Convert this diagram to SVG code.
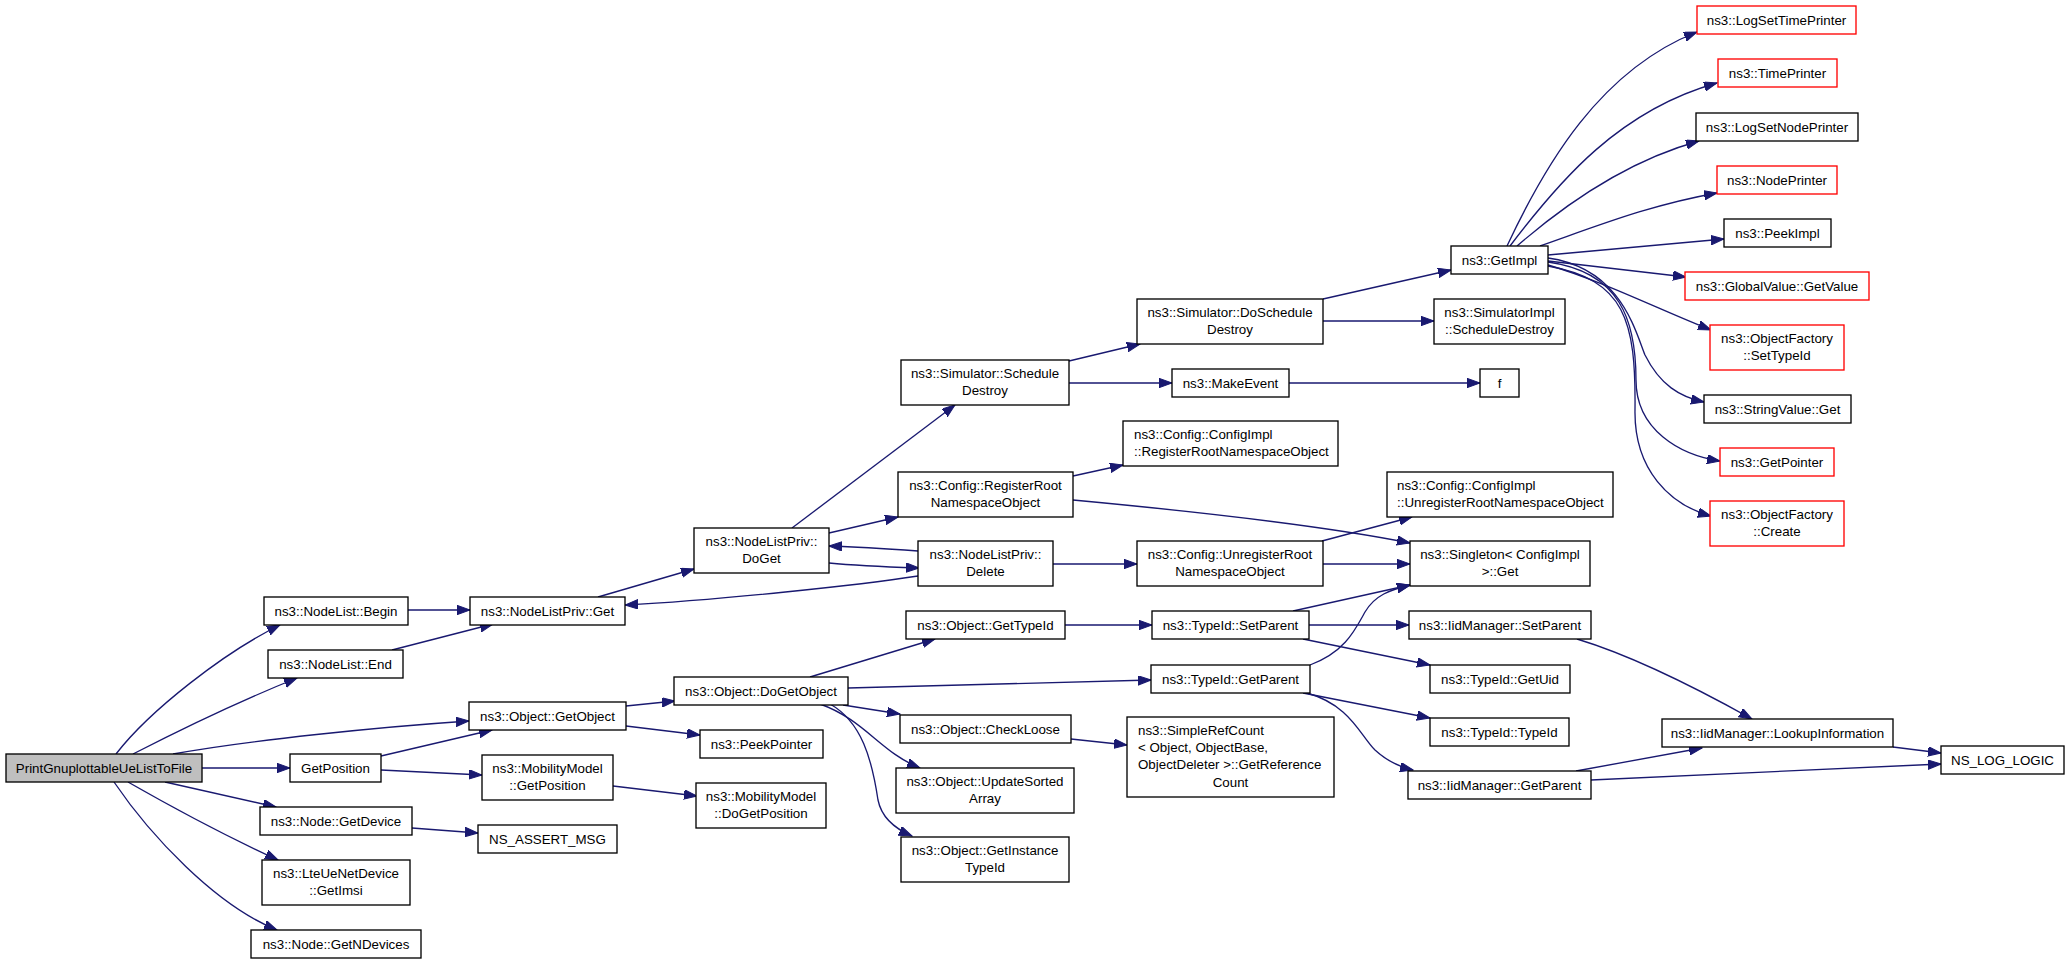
<svg xmlns="http://www.w3.org/2000/svg" width="2069" height="964" viewBox="0 0 2069 964">
<defs>
<style>
.n rect{fill:#fff;stroke:#000;stroke-width:1.33}
.n.r rect{stroke:#ff0000}
.n.m rect{fill:#bfbfbf}
.n text{font-family:"Liberation Sans",Arial,sans-serif;font-size:13.33px;fill:#000;text-anchor:middle}
.n text.l{text-anchor:start}
#edges path{fill:none;stroke:#191970;stroke-width:1.33;marker-end:url(#a)}
</style>
<marker id="a" markerWidth="14" markerHeight="10" refX="13" refY="4.7" orient="auto" markerUnits="userSpaceOnUse"><path d="M0,0 L13,4.7 L0,9.4 z" fill="#191970" stroke="#191970" stroke-width="1"/></marker>
</defs>
<rect width="2069" height="964" fill="#fff"/>
<g id="edges">
<path d="M116,754 C150,710 225,652 280,625"/>
<path d="M133,754 C170,735 230,705 297,678"/>
<path d="M173,754 C250,740 380,727 469,721"/>
<path d="M202,768 L290,768"/>
<path d="M165,782 L276,807"/>
<path d="M128,782 C170,806 230,838 278,860"/>
<path d="M114,782 C150,835 215,905 277,930"/>
<path d="M408,610 L470,610"/>
<path d="M392,650 L493,624"/>
<path d="M598,597 L694,569"/>
<path d="M792,528 L955,405"/>
<path d="M829,533 L898,517"/>
<path d="M829,563 C860,566 890,567 919,568"/>
<path d="M918,551 C890,549 860,547 829,546"/>
<path d="M918,576 C860,585 720,600 625,605"/>
<path d="M1053,564 L1137,564"/>
<path d="M1069,361 L1140,344"/>
<path d="M1069,383 L1172,383"/>
<path d="M1289,383 L1480,383"/>
<path d="M1323,299 L1451,270"/>
<path d="M1323,321 L1434,321"/>
<path d="M1073,476 L1123,465"/>
<path d="M1073,500 C1180,510 1320,525 1410,543"/>
<path d="M1322,541 L1412,517"/>
<path d="M1323,564 L1410,564"/>
<path d="M1507,246 C1545,165 1600,70 1697,32"/>
<path d="M1510,246 C1560,180 1620,110 1717,83"/>
<path d="M1517,246 C1570,200 1630,160 1699,141"/>
<path d="M1540,246 C1600,225 1650,205 1717,193"/>
<path d="M1548,255 L1724,239"/>
<path d="M1548,261 L1686,277"/>
<path d="M1548,265 C1600,280 1660,310 1711,330"/>
<path d="M1548,258 C1620,268 1635,330 1645,355 C1660,385 1680,397 1704,402"/>
<path d="M1548,262 C1620,272 1636,320 1636,380 C1636,430 1680,455 1720,461"/>
<path d="M1548,266 C1625,280 1636,320 1635,410 C1634,470 1670,505 1711,516"/>
<path d="M626,706 L675,701"/>
<path d="M626,726 L700,735"/>
<path d="M381,756 L492,730"/>
<path d="M381,770 L482,775"/>
<path d="M613,786 L697,796"/>
<path d="M412,828 L478,833"/>
<path d="M810,677 L935,639"/>
<path d="M848,688 L1151,680"/>
<path d="M843,705 L900,714"/>
<path d="M820,704 C865,720 880,752 920,768"/>
<path d="M830,704 C862,722 872,760 878,800 C882,820 898,830 912,836"/>
<path d="M1065,625 L1152,625"/>
<path d="M1293,611 L1410,585"/>
<path d="M1309,625 L1409,625"/>
<path d="M1303,639 L1430,665"/>
<path d="M1310,665 C1345,652 1355,630 1365,612 C1375,595 1390,590 1410,585"/>
<path d="M1303,693 L1430,718"/>
<path d="M1307,693 C1350,705 1360,735 1375,750 C1388,762 1400,767 1413,770"/>
<path d="M1071,739 L1127,745"/>
<path d="M1577,639 C1630,655 1700,690 1752,719"/>
<path d="M1576,771 L1702,748"/>
<path d="M1591,780 L1941,764"/>
<path d="M1893,747 L1941,753"/>
</g>
<g id="n_print" class="n m"><rect x="6" y="754" width="196" height="28"/><text x="104" y="772.7">PrintGnuplottableUeListToFile</text></g>
<g id="n_begin" class="n"><rect x="264" y="597" width="144" height="28"/><text x="336" y="615.7">ns3::NodeList::Begin</text></g>
<g id="n_end" class="n"><rect x="268" y="650" width="135" height="28"/><text x="335.5" y="668.7">ns3::NodeList::End</text></g>
<g id="n_getobject" class="n"><rect x="469" y="702" width="157" height="28"/><text x="547.5" y="720.7">ns3::Object::GetObject</text></g>
<g id="n_getposition" class="n"><rect x="290" y="754" width="91" height="28"/><text x="335.5" y="772.7">GetPosition</text></g>
<g id="n_mmgetpos" class="n"><rect x="482" y="755" width="131" height="45"/><text x="547.5" y="772.5">ns3::MobilityModel</text><text x="547.5" y="789.5">::GetPosition</text></g>
<g id="n_getdevice" class="n"><rect x="260" y="807" width="152" height="28"/><text x="336" y="825.7">ns3::Node::GetDevice</text></g>
<g id="n_assert" class="n"><rect x="478" y="825" width="139" height="28"/><text x="547.5" y="843.7">NS_ASSERT_MSG</text></g>
<g id="n_imsi" class="n"><rect x="262" y="860" width="148" height="45"/><text x="336" y="877.5">ns3::LteUeNetDevice</text><text x="336" y="894.5">::GetImsi</text></g>
<g id="n_ndevices" class="n"><rect x="251" y="930" width="170" height="28"/><text x="336" y="948.7">ns3::Node::GetNDevices</text></g>
<g id="n_nlpget" class="n"><rect x="470" y="597" width="155" height="28"/><text x="547.5" y="615.7">ns3::NodeListPriv::Get</text></g>
<g id="n_doget" class="n"><rect x="694" y="528" width="135" height="45"/><text x="761.5" y="545.5">ns3::NodeListPriv::</text><text x="761.5" y="562.5">DoGet</text></g>
<g id="n_delete" class="n"><rect x="918" y="541" width="135" height="45"/><text x="985.5" y="558.5">ns3::NodeListPriv::</text><text x="985.5" y="575.5">Delete</text></g>
<g id="n_sched" class="n"><rect x="901" y="360" width="168" height="45"/><text x="985" y="377.5">ns3::Simulator::Schedule</text><text x="985" y="394.5">Destroy</text></g>
<g id="n_dosched" class="n"><rect x="1137" y="299" width="186" height="45"/><text x="1230" y="316.5">ns3::Simulator::DoSchedule</text><text x="1230" y="333.5">Destroy</text></g>
<g id="n_simimpl" class="n"><rect x="1434" y="299" width="131" height="45"/><text x="1499.5" y="316.5">ns3::SimulatorImpl</text><text x="1499.5" y="333.5">::ScheduleDestroy</text></g>
<g id="n_getimpl" class="n"><rect x="1451" y="246" width="97" height="28"/><text x="1499.5" y="264.7">ns3::GetImpl</text></g>
<g id="n_makeevent" class="n"><rect x="1172" y="369" width="117" height="28"/><text x="1230.5" y="387.7">ns3::MakeEvent</text></g>
<g id="n_f" class="n"><rect x="1480" y="369" width="39" height="28"/><text x="1499.5" y="387.7">f</text></g>
<g id="n_regroot" class="n"><rect x="898" y="472" width="175" height="45"/><text x="985.5" y="489.5">ns3::Config::RegisterRoot</text><text x="985.5" y="506.5">NamespaceObject</text></g>
<g id="n_implreg" class="n"><rect x="1123" y="421" width="215" height="45"/><text class="l" x="1134" y="438.5">ns3::Config::ConfigImpl</text><text class="l" x="1134" y="455.5">::RegisterRootNamespaceObject</text></g>
<g id="n_implunreg" class="n"><rect x="1387" y="472" width="226" height="45"/><text class="l" x="1397" y="489.5">ns3::Config::ConfigImpl</text><text class="l" x="1397" y="506.5">::UnregisterRootNamespaceObject</text></g>
<g id="n_unregroot" class="n"><rect x="1137" y="541" width="186" height="45"/><text x="1230" y="558.5">ns3::Config::UnregisterRoot</text><text x="1230" y="575.5">NamespaceObject</text></g>
<g id="n_singleton" class="n"><rect x="1410" y="541" width="180" height="45"/><text x="1500" y="558.5">ns3::Singleton&lt; ConfigImpl</text><text x="1500" y="575.5"> &gt;::Get</text></g>
<g id="n_gettypeid" class="n"><rect x="906" y="611" width="159" height="28"/><text x="985.5" y="629.7">ns3::Object::GetTypeId</text></g>
<g id="n_dogetobject" class="n"><rect x="674" y="677" width="174" height="28"/><text x="761" y="695.7">ns3::Object::DoGetObject</text></g>
<g id="n_peekpointer" class="n"><rect x="700" y="730" width="123" height="28"/><text x="761.5" y="748.7">ns3::PeekPointer</text></g>
<g id="n_dogetpos" class="n"><rect x="696" y="783" width="130" height="45"/><text x="761" y="800.5">ns3::MobilityModel</text><text x="761" y="817.5">::DoGetPosition</text></g>
<g id="n_checkloose" class="n"><rect x="900" y="715" width="171" height="28"/><text x="985.5" y="733.7">ns3::Object::CheckLoose</text></g>
<g id="n_updsorted" class="n"><rect x="896" y="768" width="178" height="45"/><text x="985" y="785.5">ns3::Object::UpdateSorted</text><text x="985" y="802.5">Array</text></g>
<g id="n_instance" class="n"><rect x="901" y="837" width="168" height="45"/><text x="985" y="854.5">ns3::Object::GetInstance</text><text x="985" y="871.5">TypeId</text></g>
<g id="n_setparent" class="n"><rect x="1152" y="611" width="157" height="28"/><text x="1230.5" y="629.7">ns3::TypeId::SetParent</text></g>
<g id="n_getparent" class="n"><rect x="1151" y="665" width="159" height="28"/><text x="1230.5" y="683.7">ns3::TypeId::GetParent</text></g>
<g id="n_simpleref" class="n"><rect x="1127" y="717" width="207" height="80"/><text class="l" x="1138" y="735">ns3::SimpleRefCount</text><text class="l" x="1138" y="752">&lt; Object, ObjectBase,</text><text class="l" x="1138" y="769"> ObjectDeleter &gt;::GetReference</text><text x="1230.5" y="787">Count</text></g>
<g id="n_getuid" class="n"><rect x="1430" y="665" width="140" height="28"/><text x="1500" y="683.7">ns3::TypeId::GetUid</text></g>
<g id="n_typeid" class="n"><rect x="1430" y="718" width="139" height="28"/><text x="1499.5" y="736.7">ns3::TypeId::TypeId</text></g>
<g id="n_iidgetparent" class="n"><rect x="1408" y="771" width="183" height="28"/><text x="1499.5" y="789.7">ns3::IidManager::GetParent</text></g>
<g id="n_iidsetparent" class="n"><rect x="1409" y="611" width="182" height="28"/><text x="1500" y="629.7">ns3::IidManager::SetParent</text></g>
<g id="n_lookup" class="n"><rect x="1662" y="719" width="231" height="28"/><text x="1777.5" y="737.7">ns3::IidManager::LookupInformation</text></g>
<g id="n_nslog" class="n"><rect x="1941" y="746" width="123" height="28"/><text x="2002.5" y="764.7">NS_LOG_LOGIC</text></g>
<g id="n_logsettime" class="n r"><rect x="1697" y="6" width="159" height="28"/><text x="1776.5" y="24.7">ns3::LogSetTimePrinter</text></g>
<g id="n_timeprinter" class="n r"><rect x="1718" y="59" width="119" height="28"/><text x="1777.5" y="77.7">ns3::TimePrinter</text></g>
<g id="n_logsetnode" class="n"><rect x="1696" y="113" width="162" height="28"/><text x="1777" y="131.7">ns3::LogSetNodePrinter</text></g>
<g id="n_nodeprinter" class="n r"><rect x="1717" y="166" width="120" height="28"/><text x="1777" y="184.7">ns3::NodePrinter</text></g>
<g id="n_peekimpl" class="n"><rect x="1724" y="219" width="107" height="28"/><text x="1777.5" y="237.7">ns3::PeekImpl</text></g>
<g id="n_globalvalue" class="n r"><rect x="1685" y="272" width="184" height="28"/><text x="1777" y="290.7">ns3::GlobalValue::GetValue</text></g>
<g id="n_settypeid" class="n r"><rect x="1710" y="325" width="134" height="45"/><text x="1777" y="342.5">ns3::ObjectFactory</text><text x="1777" y="359.5">::SetTypeId</text></g>
<g id="n_stringvalue" class="n"><rect x="1704" y="395" width="147" height="28"/><text x="1777.5" y="413.7">ns3::StringValue::Get</text></g>
<g id="n_getpointer" class="n r"><rect x="1720" y="448" width="114" height="28"/><text x="1777" y="466.7">ns3::GetPointer</text></g>
<g id="n_create" class="n r"><rect x="1710" y="501" width="134" height="45"/><text x="1777" y="518.5">ns3::ObjectFactory</text><text x="1777" y="535.5">::Create</text></g>
</svg>
